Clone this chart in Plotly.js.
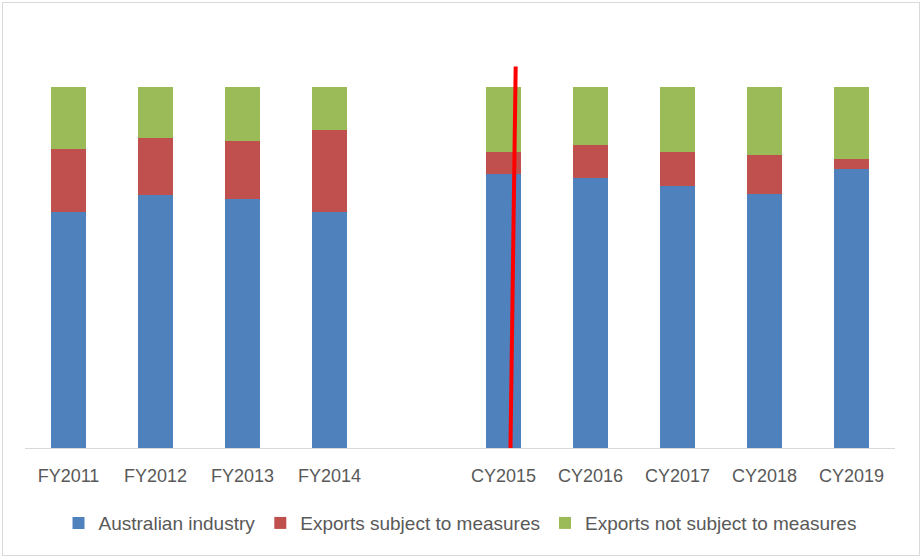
<!DOCTYPE html>
<html>
<head>
<meta charset="utf-8">
<script src="https://cdn.plot.ly/plotly-3.0.1.min.js"></script>
<style>
  html, body { margin: 0; padding: 0; background: #ffffff; }
  #chart { position: absolute; left: 0; top: 0; width: 923px; height: 559px; }
  #frame { position: absolute; left: 2px; top: 2px; width: 916px; height: 552px;
           border: 1px solid #d9d9d9; pointer-events: none; }
</style>
</head>
<body>
<div id="chart"></div>
<div id="frame"></div>
<script>
// Categories (a blank slot separates the FY and CY periods)
const categories = ['FY2011', 'FY2012', 'FY2013', 'FY2014', ' ', 'CY2015', 'CY2016', 'CY2017', 'CY2018', 'CY2019'];
// Share of the market (%)
const australianIndustry = [65.3, 69.9, 68.8, 65.3, null, 75.9, 74.7, 72.6, 70.3, 77.3];
const exportsSubject     = [17.4, 16.0, 16.2, 22.6, null,  6.0,  9.2,  9.3, 10.8,  2.6];
const exportsNotSubject  = [17.3, 14.1, 15.0, 12.1, null, 18.1, 16.0, 18.1, 18.9, 20.1];
const seriesNames = ['Australian industry', 'Exports subject to measures', 'Exports not subject to measures'];
const seriesColors = ['#4f81bd', '#c0504d', '#9bbb59'];

// Red marker line near CY2015 (category index 5)
const markerX = [5.08, 5.14];   // bottom, top
const markerY = [-0.4, 105.6];

const values = [australianIndustry, exportsSubject, exportsNotSubject];
const traces = values.map((v, i) => ({
  type: 'bar',
  name: seriesNames[i],
  x: categories,
  y: v,
  marker: { color: seriesColors[i] },
  hoverinfo: 'x+y+name'
}));

const layout = {
  width: 923,
  height: 559,
  barmode: 'stack',
  bargap: 0.603,
  paper_bgcolor: '#ffffff',
  plot_bgcolor: '#ffffff',
  margin: { l: 25, r: 28, t: 64.6, b: 111 },
  font: { family: 'Liberation Sans, Arial, sans-serif', color: '#595959', size: 18 },
  xaxis: {
    type: 'category',
    categoryorder: 'array',
    categoryarray: categories,
    showline: true,
    linecolor: '#d9d9d9',
    linewidth: 1,
    ticks: '',
    showgrid: false,
    zeroline: false,
    tickfont: { size: 18, color: '#595959' },
    ticklabelstandoff: 11
  },
  yaxis: {
    range: [0, 106],
    visible: false,
    showgrid: false,
    zeroline: false
  },
  showlegend: true,
  legend: {
    orientation: 'h',
    x: 0.5,
    xanchor: 'center',
    y: -0.196,
    yanchor: 'middle',
    traceorder: 'normal',
    font: { size: 19, color: '#595959' },
    itemwidth: 30,
    bgcolor: 'rgba(0,0,0,0)'
  },
  shapes: [{
    type: 'line',
    xref: 'x', yref: 'y',
    x0: markerX[0], x1: markerX[1],
    y0: markerY[0], y1: markerY[1],
    line: { color: '#ff0000', width: 4 },
    layer: 'above'
  }]
};

Plotly.newPlot('chart', traces, layout, { displayModeBar: false, staticPlot: true });
</script>
</body>
</html>
